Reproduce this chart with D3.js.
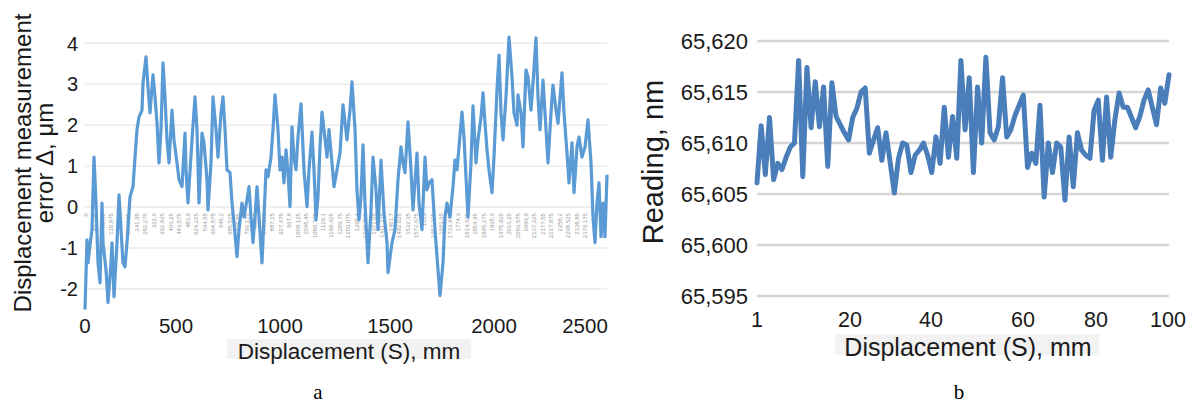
<!DOCTYPE html>
<html>
<head>
<meta charset="utf-8">
<script src="https://cdn.jsdelivr.net/npm/d3@7"></script>
<style>
body { margin: 0; background: #fff; }
text { font-family: "Liberation Sans", Arial, sans-serif; }
</style>
</head>
<body>
<div id="chart"></div>
<script>

let errS = [0, 10, 15, 25, 35, 45, 55, 65, 75, 85, 90, 105, 115, 130, 135, 145, 160, 170, 180, 190,
    200, 210, 225, 240, 250, 260, 270, 285, 290, 305, 315, 325, 335, 340, 350, 360, 370, 380, 390, 400,
    410, 420, 435, 445, 460, 470, 485, 500, 505, 515, 535, 550, 560, 570, 585, 595, 610, 615, 630, 640,
    655, 665, 680, 690, 700, 710, 725, 735, 745, 760, 770, 785, 795, 810, 820, 830, 840, 850, 860, 870,
    885, 895, 905, 915, 930, 940, 950, 965, 975, 985, 995, 1005, 1015, 1025, 1035, 1045, 1055, 1065, 1080, 1095,
    1110, 1120, 1135, 1145, 1155, 1165, 1175, 1185, 1195, 1210, 1220, 1235, 1245, 1260, 1275, 1290, 1310, 1325, 1335, 1350,
    1360, 1370, 1380, 1390, 1400, 1415, 1430, 1440, 1455, 1465, 1480, 1495, 1510, 1515, 1535, 1550, 1565, 1580, 1590, 1600,
    1615, 1630, 1640, 1660, 1670, 1685, 1700, 1710, 1720, 1735, 1750, 1760, 1775, 1790, 1800, 1810, 1825, 1840, 1850, 1860,
    1870, 1885, 1895, 1910, 1915, 1930, 1940, 1955, 1965, 1980, 1990, 2000, 2010, 2020, 2035, 2045, 2060, 2070, 2080, 2090,
    2105, 2120, 2135, 2145, 2160, 2165, 2180, 2190, 2205, 2215, 2230, 2240, 2255, 2265, 2275, 2290, 2300, 2315, 2330, 2340,
    2355, 2365, 2385, 2395, 2410, 2420, 2435, 2445, 2460, 2470, 2485, 2500, 2515, 2530, 2540, 2550, 2560, 2570, 2580, 2590,
    2600, 2610];
let errV = [-2.50, -0.80, -1.36, -0.92, -0.55, 1.22, 0.10, -1.36, -1.85, 0.10, -0.87, -1.53, -2.33, -1.36, -0.87, -2.19, -0.87, 0.30, -0.55, -1.36,
    -1.46, -0.87, 0.25, 0.50, 1.22, 1.89, 2.20, 2.37, 3.03, 3.67, 2.93, 2.30, 2.93, 3.23, 2.69, 2.05, 1.08, 1.89, 3.52, 2.69,
    1.64, 1.08, 2.37, 1.64, 1.08, 0.67, 0.50, 1.81, 0.91, 0.10, 1.64, 2.69, 1.89, 0.10, 1.81, 1.57, 0.67, -0.07, 1.08, 2.69,
    1.89, 1.22, 2.30, 2.69, 1.89, 0.91, 0.84, 0.10, -0.38, -1.21, -0.55, 0.10, -0.24, 0.18, 0.50, -0.24, -0.87, -0.24, 0.50, -0.24,
    -1.36, -0.24, 0.91, 0.74, 1.22, 1.89, 2.74, 1.89, 0.91, 1.22, 0.59, 1.40, 0.84, 0.01, 1.96, 1.22, 0.91, 1.71, 2.52, 0.91,
    0.01, 0.91, 1.83, 0.91, -0.31, 0.25, 1.47, 2.32, 1.89, 1.22, 1.89, 1.08, 0.50, 0.91, 1.32, 2.50, 1.64, 2.37, 3.06, 1.89,
    0.42, -0.31, 0.25, 1.52, 0.10, -1.36, -0.07, 1.22, 0.42, -0.55, 1.15, -0.14, -0.87, -1.60, -0.87, -0.55, 0.67, 1.47, 1.08, 0.84,
    2.08, 0.91, -0.07, 1.32, 0.10, -0.55, 1.22, 0.42, 0.59, 0.67, -0.55, -1.21, -2.16, -1.36, -0.24, 0.10, -0.24, 0.50, 1.15, 0.91,
    1.47, 2.32, 1.71, 0.25, -0.24, 1.08, 2.47, 1.08, 1.64, 2.20, 2.79, 2.05, 1.40, 0.91, 0.35, 1.22, 2.86, 3.71, 2.30, 1.64,
    2.69, 4.15, 3.18, 2.30, 2.00, 2.74, 2.30, 1.47, 3.35, 3.18, 2.37, 3.03, 4.13, 2.69, 1.89, 3.10, 2.30, 1.08, 2.30, 2.98,
    2.37, 2.05, 3.28, 2.30, 1.32, 0.59, 1.57, 0.35, 1.47, 1.71, 1.22, 1.47, 2.13, 1.08, -0.24, -0.87, 0.10, 0.59, -0.72, 0.10,
    -0.72, 0.79];
let errYTicks = [-2, -1, 0, 1, 2, 3, 4];
let errXTicks = [0, 500, 1000, 1500, 2000, 2500];
let catLabels = ["0", "40,325", "80,65", "120,975", "161,3", "201,625", "241,95", "282,275", "322,6", "362,925",
    "403,25", "443,575", "483,9", "524,225", "564,55", "604,875", "645,2", "685,525", "725,85", "766,175",
    "806,5", "846,825", "887,15", "927,475", "967,8", "1008,125", "1048,45", "1088,775", "1129,1", "1169,425",
    "1209,75", "1250,075", "1290,4", "1330,725", "1371,05", "1411,375", "1451,7", "1492,025", "1532,35", "1572,675",
    "1613", "1653,325", "1693,65", "1733,975", "1774,3", "1814,625", "1854,95", "1895,275", "1935,6", "1975,925",
    "2016,25", "2056,575", "2096,9", "2137,225", "2177,55", "2217,875", "2258,2", "2298,525", "2338,85", "2379,175",
    "2419,5", "2459,825"];

// (b) reading, nm - one value per step 1..100
let readV = [65.6061, 65.6117, 65.6069, 65.6125, 65.6064, 65.6080, 65.6074, 65.6086, 65.6096, 65.6100,
    65.6181, 65.6067, 65.6174, 65.6115, 65.6160, 65.6116, 65.6155, 65.6077, 65.6159, 65.6126,
    65.6118, 65.6110, 65.6103, 65.6125, 65.6134, 65.6150, 65.6154, 65.6090, 65.6103, 65.6115,
    65.6083, 65.6110, 65.6081, 65.6051, 65.6085, 65.6100, 65.6098, 65.6071, 65.6088, 65.6093,
    65.6100, 65.6088, 65.6071, 65.6106, 65.6080, 65.6135, 65.6086, 65.6126, 65.6085, 65.6181,
    65.6113, 65.6164, 65.6071, 65.6155, 65.6100, 65.6184, 65.6110, 65.6103, 65.6116, 65.6164,
    65.6106, 65.6113, 65.6127, 65.6137, 65.6147, 65.6076, 65.6090, 65.6080, 65.6137, 65.6047,
    65.6100, 65.6071, 65.6100, 65.6096, 65.6044, 65.6106, 65.6057, 65.6110, 65.6093, 65.6088,
    65.6085, 65.6132, 65.6142, 65.6083, 65.6145, 65.6086, 65.6123, 65.6149, 65.6135, 65.6135,
    65.6125, 65.6115, 65.6126, 65.6142, 65.6152, 65.6135, 65.6118, 65.6154, 65.6139, 65.6167];
let readYTicks = [65.595, 65.600, 65.605, 65.610, 65.615, 65.620];
let readXTicks = [1, 20, 40, 60, 80, 100];

let commaFmt = d3.formatLocale({decimal: ",", thousands: ".", grouping: [3], currency: ["", ""]}).format(".3f");

let svg = d3.select("#chart")
    .append("svg")
    .attr("width", 1197)
    .attr("height", 405);

function plot_error() {
    let x = d3.scaleLinear().domain([0, 2610]).range([85, 607]);
    // the printed axis numbers are not evenly spaced in the original
    let xLab = d3.scaleLinear().domain(errXTicks).range([85, 176, 280, 390, 494, 585]);
    let y = d3.scaleLinear().domain([-2, 4]).range([289, 43.3]);
    let g = svg.append("g");

    g.selectAll("line.grid")
        .data(errYTicks)
        .enter()
        .append("line")
        .attr("x1", 85)
        .attr("x2", 607)
        .attr("y1", d => y(d))
        .attr("y2", d => y(d))
        .attr("stroke", "#ebebeb")
        .attr("stroke-width", 1.5);

    let cat = d3.scalePoint().domain(catLabels).range([86, 602]);
    g.selectAll("text.cat")
        .data(catLabels)
        .enter()
        .append("text")
        .attr("transform", d => "translate(" + cat(d) + "," + (y(0) + 6) + ") rotate(-90)")
        .attr("text-anchor", "end")
        .attr("dy", "0.35em")
        .attr("font-size", "6px")
        .attr("fill", "#9a9a9a")
        .text(d => d);

    let line = d3.line()
        .x((d, i) => x(errS[i]))
        .y(d => y(d));
    g.append("path")
        .datum(errV)
        .attr("d", line)
        .attr("fill", "none")
        .attr("stroke", "#5b9bd5")
        .attr("stroke-width", 3.2)
        .attr("stroke-linejoin", "round");

    g.selectAll("text.ytick")
        .data(errYTicks)
        .enter()
        .append("text")
        .attr("x", 78)
        .attr("y", d => y(d))
        .attr("dy", "0.36em")
        .attr("text-anchor", "end")
        .attr("font-size", "20px")
        .attr("fill", "#1a1a1a")
        .text(d => d);

    g.selectAll("text.xtick")
        .data(errXTicks)
        .enter()
        .append("text")
        .attr("x", d => xLab(d))
        .attr("y", 333)
        .attr("text-anchor", "middle")
        .attr("font-size", "20.5px")
        .attr("fill", "#1a1a1a")
        .text(d => d);

    g.append("rect")
        .attr("x", 227).attr("y", 339)
        .attr("width", 244).attr("height", 20)
        .attr("fill", "#f2f2f2");
    g.append("text")
        .attr("x", 349)
        .attr("y", 359)
        .attr("text-anchor", "middle")
        .attr("font-size", "22.5px")
        .attr("fill", "#1a1a1a")
        .text("Displacement (S), mm");

    let yt = g.append("text")
        .attr("transform", "translate(31,163) rotate(-90)")
        .attr("text-anchor", "middle")
        .attr("font-size", "24px")
        .attr("fill", "#1a1a1a");
    yt.append("tspan").attr("x", 0).attr("y", 0).text("Displacement measurement");
    yt.append("tspan").attr("x", 0).attr("y", 22).text("error \u0394, \u03bcm");

    svg.append("text")
        .attr("x", 318).attr("y", 399)
        .attr("text-anchor", "middle")
        .style("font-family", "'Liberation Serif', 'Times New Roman', serif")
        .attr("font-size", "21px")
        .text("a");
}

function plot_reading() {
    let x = d3.scaleLinear().domain([1, 100]).range([757, 1169]);
    let xLab = d3.scaleLinear().domain(readXTicks).range([757, 850, 931, 1023, 1096, 1168]);
    let y = d3.scaleLinear().domain([65.595, 65.620]).range([296, 41]);
    let g = svg.append("g");

    g.selectAll("line.grid")
        .data(readYTicks)
        .enter()
        .append("line")
        .attr("x1", 757)
        .attr("x2", 1169)
        .attr("y1", d => y(d))
        .attr("y2", d => y(d))
        .attr("stroke", "#d6d6d6")
        .attr("stroke-width", 2.5);

    let line = d3.line()
        .x((d, i) => x(i + 1))
        .y(d => y(d));
    g.append("path")
        .datum(readV)
        .attr("d", line)
        .attr("fill", "none")
        .attr("stroke", "#4a7ebb")
        .attr("stroke-width", 5)
        .attr("stroke-linejoin", "round")
        .attr("stroke-linecap", "round");

    g.selectAll("text.ytick")
        .data(readYTicks)
        .enter()
        .append("text")
        .attr("x", 748)
        .attr("y", d => y(d))
        .attr("dy", "0.36em")
        .attr("text-anchor", "end")
        .attr("font-size", "22px")
        .attr("fill", "#1a1a1a")
        .text(d => commaFmt(d));

    g.selectAll("text.xtick")
        .data(readXTicks)
        .enter()
        .append("text")
        .attr("x", d => xLab(d))
        .attr("y", 327)
        .attr("text-anchor", "middle")
        .attr("font-size", "21.5px")
        .attr("fill", "#1a1a1a")
        .text(d => d);

    g.append("rect")
        .attr("x", 835).attr("y", 334)
        .attr("width", 264).attr("height", 21)
        .attr("fill", "#f2f2f2");
    g.append("text")
        .attr("x", 968)
        .attr("y", 356)
        .attr("text-anchor", "middle")
        .attr("font-size", "25px")
        .attr("fill", "#1a1a1a")
        .text("Displacement (S), mm");

    g.append("text")
        .attr("transform", "translate(663,162) rotate(-90)")
        .attr("text-anchor", "middle")
        .attr("font-size", "29px")
        .attr("fill", "#1a1a1a")
        .text("Reading, nm");

    svg.append("text")
        .attr("x", 959).attr("y", 399)
        .attr("text-anchor", "middle")
        .style("font-family", "'Liberation Serif', 'Times New Roman', serif")
        .attr("font-size", "21px")
        .text("b");
}

plot_error();
plot_reading();

</script>
</body>
</html>
